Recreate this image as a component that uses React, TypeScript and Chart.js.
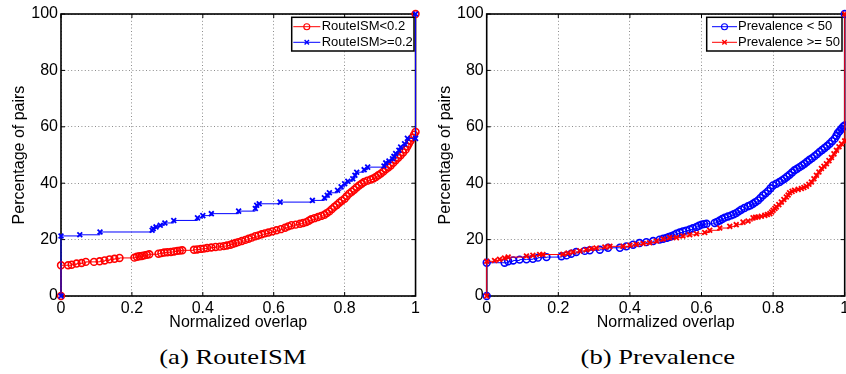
import React, { useEffect, useRef } from 'react';
import { Chart, registerables } from 'chart.js';

Chart.register(...registerables);

const FONT = "'Liberation Sans', Arial, Helvetica, sans-serif";
const SERIF = "'Liberation Serif', 'Times New Roman', serif";

// ---- axes / labels ----
const xTickValues = [0, 0.2, 0.4, 0.6, 0.8, 1];
const yTickValues = [0, 20, 40, 60, 80, 100];
const xAxisTitle = 'Normalized overlap';
const yAxisTitle = 'Percentage of pairs';
const captionA = '(a) RouteISM';
const captionB = '(b) Prevalence';

// ---- panel (a): RouteISM ----
const routeLowLabel = 'RouteISM<0.2';
const routeLowX = [0, 0, 0.02, 0.03, 0.044, 0.058, 0.07, 0.093, 0.109, 0.123, 0.137, 0.151, 0.165, 0.207, 0.214, 0.221, 0.228, 0.235, 0.242, 0.249, 0.275, 0.283, 0.291, 0.3, 0.31, 0.319, 0.328, 0.335, 0.342, 0.375, 0.384, 0.394, 0.403, 0.412, 0.424, 0.436, 0.448,
  0.459, 0.468, 0.478, 0.485, 0.492, 0.5, 0.51, 0.52, 0.529, 0.538,
  0.548, 0.557, 0.566, 0.575, 0.585, 0.596, 0.608, 0.62, 0.632, 0.641,
  0.65, 0.662, 0.674, 0.683, 0.692, 0.699, 0.706, 0.715, 0.725, 0.734,
  0.743, 0.75, 0.757, 0.764, 0.771, 0.778, 0.785, 0.792, 0.8, 0.806,
  0.813, 0.82, 0.827, 0.834, 0.841, 0.848, 0.855, 0.864, 0.874, 0.881,
  0.888, 0.895, 0.902, 0.909, 0.916, 0.923, 0.93, 0.937, 0.944, 0.951,
  0.958, 0.965, 0.972, 0.977, 0.981, 0.986, 0.991, 0.996, 1, 1];
const routeLowY = [0, 10.9, 10.9, 11.1, 11.5, 11.7, 12.1, 12.1, 12.3, 12.6, 13.0, 13.2, 13.5, 13.6, 13.9, 14.1, 14.2, 14.4, 14.6, 14.8, 15.0, 15.2, 15.4, 15.5, 15.6, 15.8, 16.0, 16.1, 16.2, 16.4, 16.5, 16.7, 16.8, 17.0, 17.2, 17.4, 17.5,
  17.7, 17.9, 18.2, 18.5, 18.8, 19.1, 19.5, 19.9, 20.3, 20.7,
  21.2, 21.5, 21.9, 22.2, 22.5, 22.9, 23.3, 23.7, 24.2, 24.7,
  25.1, 25.3, 25.6, 25.9, 26.2, 26.7, 27.2, 27.6, 28.0, 28.4,
  28.8, 29.4, 30.0, 30.8, 31.6, 32.3, 33.1, 33.8, 34.5, 35.4,
  36.3, 37.0, 37.7, 38.5, 39.2, 39.8, 40.4, 40.9, 41.3, 41.7,
  42.2, 42.8, 43.4, 44.1, 44.9, 45.6, 46.3, 47.2, 48.1, 49.0,
  49.9, 50.9, 51.9, 53.0, 54.0, 55.0, 56.1, 57.2, 58.2, 100];

const routeHighLabel = 'RouteISM>=0.2';
const routeHighX = [0, 0, 0.053, 0.11, 0.257, 0.26, 0.268, 0.28, 0.293, 0.318, 0.385, 0.4, 0.424, 0.501, 0.548, 0.552, 0.559, 0.618, 0.709, 0.743, 0.751, 0.757, 0.78, 0.79, 0.8, 0.809, 0.823, 0.829, 0.834, 0.855, 0.865, 0.911, 0.916, 0.925, 0.935, 0.939, 0.944, 0.953, 0.958, 0.969, 0.977, 1, 1];
const routeHighY = [0, 21.3, 21.7, 22.7, 23.3, 23.9, 24.5, 25.1, 25.9, 26.8, 27.7, 28.5, 29.2, 30.1, 31.0, 32.2, 32.7, 33.3, 33.9, 34.8, 35.7, 36.6, 37.5, 38.7, 39.8, 40.7, 41.6, 42.8, 43.9, 44.8, 45.7, 46.1, 47.2, 47.9, 48.7, 49.5, 50.5, 51.7, 52.8, 54.0, 55.9, 55.9, 100];

// ---- panel (b): Prevalence ----
const prevLowLabel = 'Prevalence < 50';
const prevLowX = [0, 0, 0.05, 0.06, 0.074, 0.092, 0.111, 0.129, 0.143, 0.167, 0.209, 0.223, 0.236, 0.25, 0.274, 0.288, 0.316, 0.339, 0.372, 0.39, 0.409, 0.427, 0.446, 0.465,
  0.483, 0.493, 0.502, 0.509, 0.516, 0.523, 0.53, 0.539, 0.548, 0.557,
  0.567, 0.576, 0.586, 0.593, 0.6, 0.607, 0.614, 0.637, 0.644, 0.651,
  0.658, 0.665, 0.674, 0.683, 0.69, 0.697, 0.704, 0.711, 0.72, 0.73,
  0.737, 0.744, 0.751, 0.758, 0.765, 0.772, 0.779, 0.786, 0.793, 0.8,
  0.809, 0.818, 0.825, 0.832, 0.839, 0.846, 0.853, 0.86, 0.867, 0.874,
  0.881, 0.888, 0.895, 0.902, 0.909, 0.916, 0.923, 0.93, 0.937, 0.944,
  0.951, 0.958, 0.965, 0.972, 0.977, 0.981, 0.986, 0.991, 0.996, 1, 1];
const prevLowY = [0, 11.8, 11.8, 12.3, 12.6, 12.9, 13.0, 13.2, 13.6, 13.8, 14.1, 14.4, 15.0, 15.6, 16.0, 16.2, 16.4, 17.1, 17.1, 17.6, 18.2, 18.8, 19.1, 19.5,
  20.0, 20.3, 20.6, 20.9, 21.2, 21.6, 22.1, 22.5, 22.9, 23.2,
  23.6, 24.0, 24.5, 24.9, 25.3, 25.5, 25.6, 25.9, 26.3, 26.8,
  27.3, 27.8, 28.2, 28.6, 29.0, 29.4, 30.0, 30.6, 31.2, 31.8,
  32.2, 32.7, 33.3, 33.9, 34.8, 35.7, 36.4, 37.2, 38.2, 39.2,
  39.8, 40.4, 41.0, 41.6, 42.3, 43.0, 43.8, 44.6, 45.1, 45.7,
  46.3, 46.9, 47.6, 48.3, 48.9, 49.6, 50.3, 51.1, 51.8, 52.5,
  53.2, 54.0, 54.9, 55.8, 56.8, 57.8, 58.5, 59.3, 60.0, 60.5, 100];

const prevHighLabel = 'Prevalence >= 50';
const prevHighX = [0, 0, 0.022, 0.036, 0.05, 0.06, 0.111, 0.129, 0.148, 0.157, 0.213, 0.227, 0.241, 0.26, 0.278, 0.292, 0.306, 0.33, 0.344, 0.381, 0.4, 0.418, 0.437, 0.455, 0.474, 0.493, 0.511, 0.53, 0.548, 0.567, 0.586, 0.609, 0.623, 0.651, 0.679, 0.697, 0.716, 0.73,
  0.744, 0.751, 0.758, 0.767, 0.777, 0.784, 0.791, 0.796, 0.8, 0.805,
  0.809, 0.816, 0.823, 0.83, 0.837, 0.842, 0.846, 0.853, 0.86, 0.87,
  0.879, 0.886, 0.893, 0.9, 0.907, 0.914, 0.921, 0.928, 0.935, 0.942,
  0.949, 0.956, 0.963, 0.97, 0.977, 0.984, 0.991, 1, 1];
const prevHighY = [0, 12.3, 12.6, 13.0, 13.5, 13.8, 14.2, 14.4, 14.7, 14.7, 14.8, 15.2, 15.6, 16.0, 16.4, 16.8, 17.0, 17.4, 17.6, 17.6, 18.0, 18.3, 18.6, 18.9, 19.5, 20.2, 20.7, 20.7, 21.3, 21.7, 22.1, 22.5, 23.3, 24.1, 24.7, 25.3, 26.2, 26.6,
  27.7, 27.9, 28.0, 28.3, 28.6, 28.9, 29.2, 29.8, 30.4, 31.0,
  31.6, 32.4, 33.3, 34.2, 35.1, 35.8, 36.6, 37.1, 37.5, 37.8,
  38.1, 38.5, 38.9, 39.6, 40.4, 41.6, 42.8, 44.0, 45.2, 46.0,
  46.9, 48.0, 49.1, 50.4, 51.7, 52.9, 54.0, 55.0, 100];

const RED = '#ff0000';
const BLUE = '#0000ff';

const toPoints = (xs: number[], ys: number[]) => xs.map((x, i) => ({ x, y: ys[i] }));

function makeDataset(label: string, xs: number[], ys: number[], color: string, marker: string, order: number) {
  return {
    label,
    data: toPoints(xs, ys),
    borderColor: color,
    backgroundColor: color,
    borderWidth: 1,
    stepped: true,
    tension: 0,
    pointStyle: marker,
    pointRadius: marker === 'circle' ? 3.4 : 3.4,
    pointBorderWidth: marker === 'circle' ? 1.6 : 1.8,
    pointBorderColor: color,
    pointBackgroundColor: 'rgba(0,0,0,0)',
    clip: false,
    order,
  };
}

function drawMarker(ctx: CanvasRenderingContext2D, style: string, x: number, y: number, color: string) {
  ctx.save();
  ctx.strokeStyle = color;
  ctx.beginPath();
  if (style === 'circle') {
    ctx.lineWidth = 1.1;
    ctx.arc(x, y, 3, 0, Math.PI * 2);
  } else {
    ctx.lineWidth = 1.4;
    const r = 2.2;
    ctx.moveTo(x - r, y - r); ctx.lineTo(x + r, y + r);
    ctx.moveTo(x + r, y - r); ctx.lineTo(x - r, y + r);
  }
  ctx.stroke();
  ctx.restore();
}

const framePlugin = {
  id: 'matlabFrame',
  beforeDatasetsDraw(chart: any) {
    const { ctx, chartArea: a, scales } = chart;
    ctx.save();
    ctx.strokeStyle = '#000';
    ctx.lineWidth = 1;
    const tl = 4;
    ctx.beginPath();
    xTickValues.forEach((v) => {
      const px = scales.x.getPixelForValue(v);
      ctx.moveTo(px, a.bottom); ctx.lineTo(px, a.bottom - tl);
      ctx.moveTo(px, a.top); ctx.lineTo(px, a.top + tl);
    });
    yTickValues.forEach((v) => {
      const py = scales.y.getPixelForValue(v);
      ctx.moveTo(a.left, py); ctx.lineTo(a.left + tl, py);
      ctx.moveTo(a.right, py); ctx.lineTo(a.right - tl, py);
    });
    ctx.stroke();
    ctx.lineWidth = 1.6;
    ctx.strokeRect(a.left, a.top, a.right - a.left, a.bottom - a.top);
    ctx.restore();
  },
  afterDatasetsDraw(chart: any) {
    const lg = chart.options.plugins.boxLegend;
    if (!lg) return;
    const { ctx } = chart;
    ctx.save();
    ctx.fillStyle = '#fff';
    ctx.fillRect(lg.x, lg.y, lg.w, lg.h);
    ctx.strokeStyle = '#000';
    ctx.lineWidth = 1.5;
    ctx.strokeRect(lg.x, lg.y, lg.w, lg.h);
    chart.data.datasets.forEach((ds: any, i: number) => {
      const cy = lg.y + lg.rows[i];
      const x0 = lg.x + lg.lineX;
      ctx.strokeStyle = ds.borderColor;
      ctx.lineWidth = 1;
      ctx.beginPath();
      ctx.moveTo(x0, cy);
      ctx.lineTo(x0 + lg.lineLen, cy);
      ctx.stroke();
      drawMarker(ctx, ds.pointStyle, x0 + lg.lineLen / 2, cy, ds.borderColor);
      ctx.fillStyle = '#000';
      ctx.font = `13px ${FONT}`;
      ctx.textBaseline = 'middle';
      ctx.textAlign = 'left';
      ctx.fillText(ds.label, lg.x + lg.textX, cy);
    });
    ctx.restore();
  },
};

type PanelProps = {
  left: number;
  width: number;
  height: number;
  yWidth: number;
  yTitlePad: number;
  padRight: number;
  legend: any;
  datasets: any[];
};

function Panel({ left, width, height, yWidth, yTitlePad, padRight, legend, datasets }: PanelProps) {
  const ref = useRef<HTMLCanvasElement | null>(null);
  useEffect(() => {
    if (!ref.current) return;
    const gridCommon = { color: 'rgba(0,0,0,0.45)', lineWidth: 1, drawTicks: false };
    const borderCommon = { display: false, dash: [1, 2.4] };
    const tickFont = { size: 16, family: FONT };
    const chart = new Chart(ref.current, {
      type: 'line',
      data: { datasets },
      options: {
        responsive: false,
        animation: false,
        events: [],
        layout: { padding: { left: 0, top: 14, right: padRight, bottom: 0 } },
        plugins: {
          legend: { display: false },
          tooltip: { enabled: false },
          boxLegend: legend,
        } as any,
        scales: {
          x: {
            type: 'linear',
            min: 0,
            max: 1,
            afterBuildTicks: (s: any) => { s.ticks = xTickValues.map((v) => ({ value: v })); },
            afterFit: (s: any) => { s.height = 36; },
            ticks: { font: tickFont, color: '#000', padding: 3, maxRotation: 0, autoSkip: false, callback: (v: any) => String(v) },
            title: { display: true, text: xAxisTitle, font: tickFont, color: '#000', padding: { top: 0, bottom: 0 } },
            grid: gridCommon,
            border: borderCommon,
          },
          y: {
            type: 'linear',
            min: 0,
            max: 100,
            afterBuildTicks: (s: any) => { s.ticks = yTickValues.map((v) => ({ value: v })); },
            afterFit: (s: any) => { s.width = yWidth; },
            ticks: { font: tickFont, color: '#000', padding: 3, autoSkip: false, callback: (v: any) => String(v) },
            title: { display: true, text: yAxisTitle, font: tickFont, color: '#000', padding: { top: yTitlePad, bottom: 0 } },
            grid: gridCommon,
            border: borderCommon,
          },
        },
      } as any,
      plugins: [framePlugin],
    });
    return () => chart.destroy();
  }, []);
  return (
    <canvas
      ref={ref}
      width={width}
      height={height}
      style={{ position: 'absolute', left, top: 0, width, height }}
    />
  );
}

const captionStyle = (center: number): React.CSSProperties => ({
  position: 'absolute',
  left: center - 150,
  width: 300,
  top: 346,
  textAlign: 'center',
  fontFamily: SERIF,
  fontSize: 22,
  lineHeight: '22px',
  color: '#000',
  whiteSpace: 'nowrap',
});

export default function App() {
  const datasetsA = [
    makeDataset(routeLowLabel, routeLowX, routeLowY, RED, 'circle', 1),
    makeDataset(routeHighLabel, routeHighX, routeHighY, BLUE, 'crossRot', 0),
  ];
  const datasetsB = [
    makeDataset(prevLowLabel, prevLowX, prevLowY, BLUE, 'circle', 1),
    makeDataset(prevHighLabel, prevHighX, prevHighY, RED, 'crossRot', 0),
  ];
  const legendA = { x: 291.7, y: 17.3, w: 122.3, h: 33.7, lineX: 1.6, lineLen: 27, textX: 30, rows: [9.4, 25] };
  const legendB = { x: 283.7, y: 17.3, w: 135.3, h: 33.7, lineX: 5.3, lineLen: 25, textX: 31.3, rows: [9.4, 25] };
  return (
    <div style={{ position: 'absolute', left: 0, top: 0, width: 846, height: 374, overflow: 'hidden', background: '#fff' }}>
      <Panel left={0} width={423} height={332} yWidth={61} yTitlePad={10} padRight={5} legend={legendA} datasets={datasetsA} />
      <Panel left={423} width={430} height={332} yWidth={63.7} yTitlePad={13} padRight={8.3} legend={legendB} datasets={datasetsB} />
      <div style={captionStyle(233)}>
        <span style={{ display: 'inline-block', transform: 'scaleX(1.21)' }}>{captionA}</span>
      </div>
      <div style={captionStyle(658)}>
        <span style={{ display: 'inline-block', transform: 'scaleX(1.21)' }}>{captionB}</span>
      </div>
    </div>
  );
}
